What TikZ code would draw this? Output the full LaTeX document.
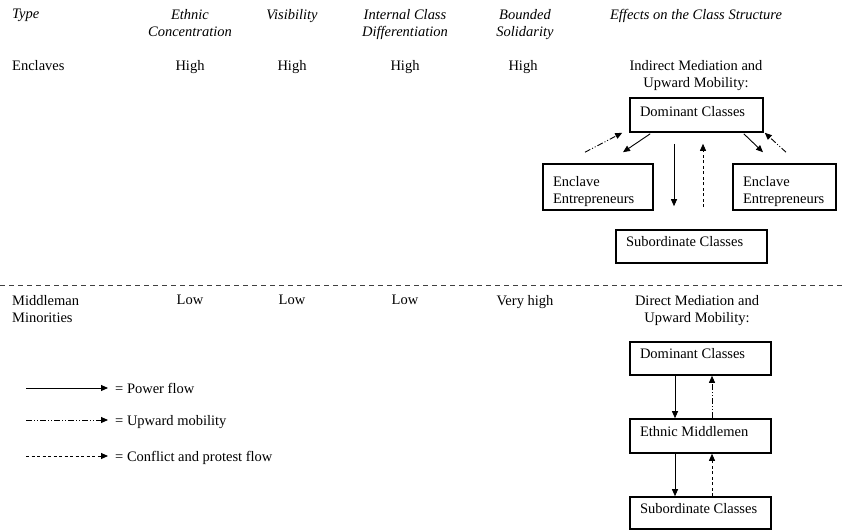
\documentclass[tikz,border=0pt]{standalone}
\usepackage{fontspec}
\setmainfont{Liberation Serif}
\usetikzlibrary{arrows.meta,calc}

\tikzset{
  txt/.style={inner sep=0pt, font=\fontsize{14.5}{17}\selectfont},
  head/.style={txt, font=\fontsize{14.5}{17}\selectfont\itshape, align=center, anchor=north},
  cell/.style={txt, align=center, anchor=north},
  classbox/.style={draw, line width=1.6pt, inner xsep=10pt, inner ysep=0pt,
    align=flush left, font=\fontsize{14.5}{17}\selectfont,
    text height=9.9pt, text depth=9.5pt},
  flow/.style={line width=0.9pt, -{Triangle[length=7pt,width=6pt]}},
  power/.style={flow},
  mobility/.style={flow, dash pattern=on 6pt off 2pt on 1pt off 2pt on 1pt off 2pt},
  protest/.style={flow, dash pattern=on 3pt off 2.5pt},
}

\begin{document}
\begin{tikzpicture}[x=1pt, y=-1pt]
\useasboundingbox (0,0) rectangle (843,530);

% column headings
\node[head, anchor=north west] (hType) at (12,9) {Type};
\node[head] (hEth) at (190,9) {Ethnic\\Concentration};
\node[head] (hVis) at (292,9) {Visibility};
\node[head] (hInt) at (405,9) {Internal Class\\Differentiation};
\node[head] (hBnd) at (525,9) {Bounded\\Solidarity};
\node[head] (hEff) at (696,9) {Effects on the Class Structure};

% enclaves row
\node[cell, anchor=north west] (rEnc) at (12,60) {Enclaves};
\node[cell] (eEth) at (190,60) {High};
\node[cell] (eVis) at (292,60) {High};
\node[cell] (eInt) at (405,60) {High};
\node[cell] (eBnd) at (523,60) {High};
\node[cell] (eEff) at (696,60) {Indirect Mediation and\\Upward Mobility:};

% enclave class structure
\node[classbox, minimum width=133pt, minimum height=34pt, text width=113pt, text depth=6pt] (dom1) at (696.5,115) {Dominant Classes};
\node[classbox, minimum width=110pt, minimum height=46pt, text width=90pt, text depth=11pt] (encL) at (598,187) {Enclave\\Entrepreneurs};
\node[classbox, minimum width=103pt, minimum height=46pt, text width=83pt, text depth=11pt] (encR) at (784.5,187) {Enclave\\Entrepreneurs};
\node[classbox, minimum width=151pt, minimum height=33pt, text width=131pt] (sub1) at (691.5,246.5) {Subordinate Classes};

\draw[power] ($(dom1.south west)+(21,1)$) -- ($(encL.north)+(25,-11)$);
\draw[mobility] ($(encL.north)+(-13,-11)$) -- ($(dom1.south west)+(-7,0)$);
\draw[power] ($(dom1.south east)+(-20,1)$) -- ($(encR.north)+(-21.5,-11)$);
\draw[mobility] ($(encR.north)+(1.5,-11)$) -- ($(dom1.south east)+(1,0)$);
\draw[power] ($(dom1.south)+(-22.5,11)$) -- ($(sub1.north)+(-17.5,-23)$);
\draw[protest] ($(sub1.north)+(11.5,-22)$) -- ($(dom1.south)+(6.5,11)$);

% separator between the two types
\coordinate (sepL) at (0,285);
\coordinate (sepR) at (843,285);
\draw[line width=0.8pt, dash pattern=on 5pt off 4pt, black!75] (sepL) -- (sepR);

% middleman minorities row
\node[cell, anchor=north west, align=left] (rMid) at (12,295) {Middleman\\Minorities};
\node[cell] (mEth) at (190,295) {Low};
\node[cell] (mVis) at (292,295) {Low};
\node[cell] (mInt) at (405,295) {Low};
\node[cell] (mBnd) at (525,295) {Very high};
\node[cell] (mEff) at (697,295) {Direct Mediation and\\Upward Mobility:};

% middleman class structure
\node[classbox, minimum width=141pt, minimum height=33pt, text width=121pt] (dom2) at (700.5,358.5) {Dominant Classes};
\node[classbox, minimum width=141pt, minimum height=34pt, text width=121pt] (mid) at (700.5,436) {Ethnic Middlemen};
\node[classbox, minimum width=141pt, minimum height=32pt, text width=121pt] (sub2) at (700.5,513) {Subordinate Classes};

\draw[power] ($(dom2.south)+(-25.5,0)$) -- ($(mid.north)+(-25.5,0)$);
\draw[mobility] ($(mid.north)+(11.5,0)$) -- ($(dom2.south)+(11.5,0)$);
\draw[power] ($(mid.south)+(-25.5,0)$) -- ($(sub2.north)+(-25.5,0)$);
\draw[protest] ($(sub2.north)+(11.5,0)$) -- ($(mid.south)+(11.5,0)$);

% legend
\coordinate (ls1) at (26,388);
\coordinate (ls2) at (26,420);
\coordinate (ls3) at (26,456);
\node[txt, anchor=base west] (lt1) at (115,393) {= Power flow};
\node[txt, anchor=base west] (lt2) at (115,425) {= Upward mobility};
\node[txt, anchor=base west] (lt3) at (115,461) {= Conflict and protest flow};
\draw[power] (ls1) -- ($(ls1 -| lt1.west)+(-7,0)$);
\draw[mobility] (ls2) -- ($(ls2 -| lt2.west)+(-7,0)$);
\draw[protest] (ls3) -- ($(ls3 -| lt3.west)+(-7,0)$);
\end{tikzpicture}
\end{document}
